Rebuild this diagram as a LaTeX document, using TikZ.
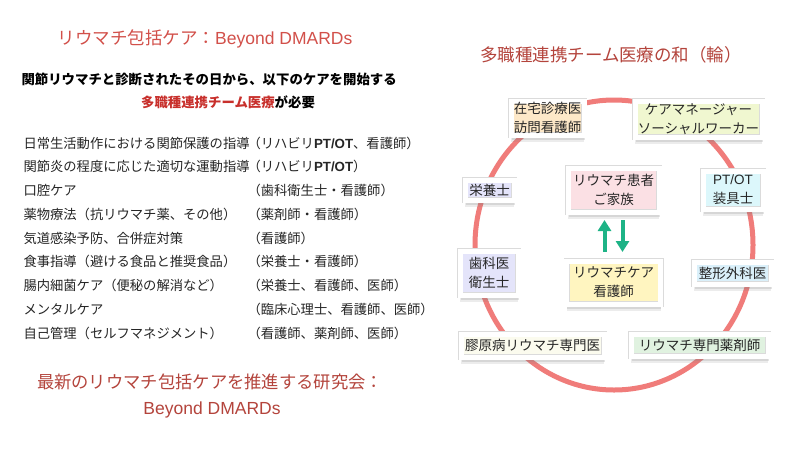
\documentclass[tikz,border=0pt]{standalone}
\usepackage{fontspec}
\setmainfont{Noto Sans CJK JP}
\newfontfamily\latin{Liberation Sans}
\usetikzlibrary{positioning,shadows,arrows.meta}

\definecolor{titlered}{HTML}{D2504A}
\definecolor{darkred}{HTML}{B4443C}
\definecolor{teamred}{HTML}{C8302C}
\definecolor{ringred}{HTML}{F07C7A}
\definecolor{arrowgreen}{HTML}{1DB386}
\definecolor{homefill}{HTML}{FDE8C8}
\definecolor{mgrfill}{HTML}{F0F7D0}
\definecolor{dietfill}{HTML}{E4E4FA}
\definecolor{patientfill}{HTML}{FBE0E4}
\definecolor{ptotfill}{HTML}{DCF7FB}
\definecolor{nursefill}{HTML}{FFF5C0}
\definecolor{orthofill}{HTML}{DAF0FA}
\definecolor{rheumfill}{HTML}{FBFBEE}
\definecolor{pharmfill}{HTML}{E0F2E0}

\newcommand\ptot{{\latin\bfseries PT/OT}}

\tikzset{
  member/.style={draw=black!14, line width=0.5pt, double=white, double distance=5pt,
    outer sep=3pt, inner sep=0pt, align=center,
    text=black!85, font=\fontsize{13.5}{19}\selectfont,
    drop shadow={shadow xshift=0pt, shadow yshift=-6.5pt, opacity=0.15},
    drop shadow={shadow xshift=0.5pt, shadow yshift=-4.5pt, opacity=0.2}},
  care/.style={anchor=base west, font=\fontsize{13.3}{16}\selectfont, text=black!85},
  flow/.style={arrowgreen, line width=4pt, -{Triangle[width=13pt,length=11pt]}},
  ring/.style={ringred, line width=5pt},
}

\begin{document}
\begin{tikzpicture}[x=1pt, y=-1pt]
    \fill[white] (0,0) rectangle (800,448);
    \useasboundingbox (0,0) rectangle (800,448);

    % left column
    \node [font=\fontsize{17.5}{20}\selectfont, text=titlered] (title) at (205,39) {リウマチ包括ケア：{\latin Beyond DMARDs}};
    \node [anchor=base west, font=\bfseries\fontsize{13.4}{16}\selectfont] (lead) at (18,84) {関節リウマチと診断されたその日から、以下のケアを開始する};
    \node [anchor=base, font=\bfseries\fontsize{13.4}{16}\selectfont] (need) at (228,107) {\textcolor{teamred}{多職種連携チーム医療}が必要};

    \foreach \act/\who [count=\i] in {
        日常生活動作における関節保護の指導/（リハビリ\ptot、看護師）,
        関節炎の程度に応じた適切な運動指導/（リハビリ\ptot）,
        口腔ケア/（歯科衛生士・看護師）,
        薬物療法（抗リウマチ薬、その他）/（薬剤師・看護師）,
        気道感染予防、合併症対策/（看護師）,
        食事指導（避ける食品と推奨食品）/（栄養士・看護師）,
        腸内細菌ケア（便秘の解消など）/（栄養士、看護師、医師）,
        メンタルケア/（臨床心理士、看護師、医師）,
        自己管理（セルフマネジメント）/（看護師、薬剤師、医師）} {
        \node [care] (act\i) at (20,{148+23.75*(\i-1)}) {\act};
        \node [care] (who\i) at (244,{148+23.75*(\i-1)}) {\who};
    }

    \node [font=\fontsize{17.3}{20}\selectfont, text=darkred] (society) at (210,382) {最新のリウマチ包括ケアを推進する研究会：};
    \node [font=\latin\fontsize{17.5}{20}\selectfont, text=darkred] (beyond) at (212,410) {Beyond DMARDs};

    % right column: the team ring
    \node [font=\fontsize{17.5}{20}\selectfont, text=darkred] (ringtitle) at (611,55) {多職種連携チーム医療の和（輪）};
    \draw [ring] (614,245) ellipse [x radius=139pt, y radius=145pt];

    \node [member, fill=homefill, minimum width=73pt, minimum height=34pt] (home) at (547.5,118) {在宅診療医\\訪問看護師};
    \node [member, fill=mgrfill, minimum width=127pt, minimum height=36pt] (mgr) at (698.5,119) {ケアマネージャー\\ソーシャルワーカー};
    \node [member, fill=dietfill, minimum width=49pt, minimum height=20pt] (diet) at (489.5,190) {栄養士};
    \node [member, fill=patientfill, minimum width=91pt, minimum height=44pt] (patient) at (613.5,190) {リウマチ患者\\ご家族};
    \node [member, fill=ptotfill, minimum width=60pt, minimum height=38pt] (ptot) at (733,190) {{\latin PT/OT}\\装具士};
    \node [member, fill=dietfill, minimum width=58pt, minimum height=44pt] (dental) at (489,273) {歯科医\\衛生士};
    \node [member, fill=nursefill, minimum width=94pt, minimum height=43pt, below=43pt of patient] (nurse) {リウマチケア\\看護師};
    \node [member, fill=orthofill, minimum width=77pt, minimum height=22pt] (ortho) at (732.5,273) {整形外科医};
    \node [member, fill=rheumfill, minimum width=143pt, minimum height=23pt] (rheum) at (532.5,345.5) {膠原病リウマチ専門医};
    \node [member, fill=pharmfill, minimum width=137pt, minimum height=22pt] (pharm) at (699.5,345) {リウマチ専門薬剤師};

    \draw [flow] ([xshift=-9pt, yshift=6pt]nurse.north) -- ([xshift=-9pt, yshift=-5pt]patient.south);
    \draw [flow] ([xshift=9pt, yshift=-5pt]patient.south) -- ([xshift=9pt, yshift=6pt]nurse.north);
\end{tikzpicture}
\end{document}
